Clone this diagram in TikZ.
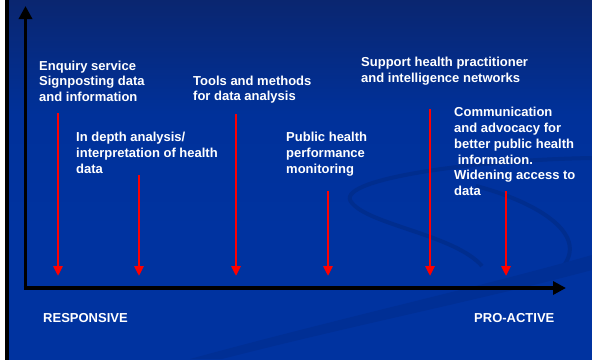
\documentclass[tikz,border=0pt]{standalone}
\usepackage{fontspec}
\setmainfont{Liberation Sans}
\usetikzlibrary{arrows.meta}
\definecolor{bgtop}{HTML}{0A2670}
\definecolor{bgmid}{HTML}{00319A}
\definecolor{bgbot}{HTML}{0033A0}
\definecolor{swoosh}{HTML}{002D8E}
\definecolor{swoband}{HTML}{002F95}
\definecolor{arrred}{HTML}{FF0000}
\tikzset{
  lbl/.style={anchor=north west, inner sep=0pt, align=left, text=white,
    font=\fontsize{13}{15.8}\selectfont\bfseries},
  redarr/.style={draw=arrred, line width=2.8pt, -{Triangle[width=9pt,length=10pt]}},
  axis/.style={draw=black, line width=3.6pt, -{Triangle[width=13pt,length=13pt]}},
  swo/.style={draw=swoosh},
}
\begin{document}
\begin{tikzpicture}[x=1pt,y=-1pt]
\useasboundingbox (0,0) rectangle (592,360);
% background
\fill[bgbot] (0,0) rectangle (592,360);
\shade[top color=bgtop, bottom color=bgbot, middle color=bgmid] (0,0) rectangle (592,230);
% faint swooshes
\draw[swo, line width=4pt] (592,158) .. controls (470,160) and (330,180) .. (352,203) .. controls (370,225) and (455,235) .. (482,266);
\draw[swo, line width=4pt] (476,186) .. controls (530,200) and (592,232) .. (562,268);
\fill[swoband] (222,359) .. controls (350,326) and (480,300) .. (592,270) -- (592,255) .. controls (480,287) and (340,318) .. (190,359) -- cycle;
% left border
\fill[white] (0,0) rectangle (5,360);
\fill[black] (5,0) rectangle (8.5,360);
% axes
\coordinate (O) at (25.5,288);
\coordinate (ytop) at (25.5,6);
\coordinate (xend) at (566,288);
\draw[axis] (O) -- (ytop);
\draw[axis] ([xshift=-1.8pt]O) -- (xend);
% labels
\node[lbl] (t1) at (39,60.5) {Enquiry service\\Signposting data\\and information};
\node[lbl] (t2) at (76,132) {In depth analysis/\\interpretation of health\\data};
\node[lbl] (t3) at (193,75.5) {Tools and methods\\for data analysis};
\node[lbl] (t4) at (286,132) {Public health\\performance\\monitoring};
\node[lbl] (t5) at (361,57) {Support health practitioner\\and intelligence networks};
\node[lbl] (t6) at (454,107) {Communication\\and advocacy for\\better public health\\\ information.\\Widening access to\\data};
\node[lbl] (r) at (43,313) {RESPONSIVE};
\node[lbl] (p) at (474,313) {PRO-ACTIVE};
% red arrows
\coordinate (a1s) at (58,113);  \coordinate (a1e) at (58,276);
\coordinate (a2s) at (139,175); \coordinate (a2e) at (139,276);
\coordinate (a3s) at (236,114); \coordinate (a3e) at (236,276);
\coordinate (a4s) at (328,191); \coordinate (a4e) at (328,276);
\coordinate (a5s) at (430,109); \coordinate (a5e) at (430,276);
\coordinate (a6s) at (506,191); \coordinate (a6e) at (506,276);
\foreach \i in {1,...,6}{\draw[redarr] (a\i s) -- (a\i e);}
\end{tikzpicture}
\end{document}
